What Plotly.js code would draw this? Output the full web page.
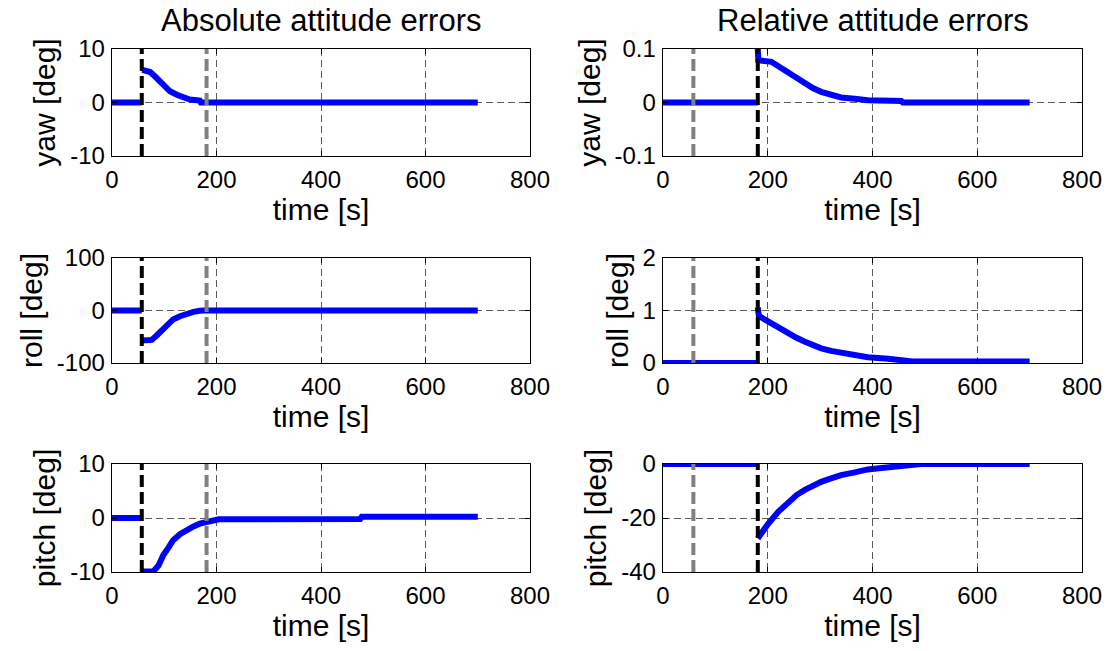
<!DOCTYPE html>
<html>
<head>
<meta charset="utf-8">
<script src="https://cdn.plot.ly/plotly-3.0.1.min.js"></script>
<style>html,body{margin:0;padding:0;background:#fff;}#plot{width:1110px;height:651px;}</style>
</head>
<body>
<div id="plot"></div>
<script>
// ---- data ----
const columnTitles = ["Absolute attitude errors", "Relative attitude errors"];
const rowLabels = ["yaw [deg]", "roll [deg]", "pitch [deg]"];
const xLabel = "time [s]";
const xRange = [0, 800];
const xTicks = [0, 200, 400, 600, 800];

// event times (black = manoeuvre start, gray = switch)
const absBlackT = 57, absGrayT = 181;
const relGrayT = 58, relBlackT = 181;

// null = jump in the sampled series (no connecting segment)
const absYawT = [0, 57, 57, 58, 73, 82, 92, 101, 111, 124, 137, 149, 168, 170, 700];
const absYawV = [0, 0, null, 6.1, 5.7, 4.9, 3.8, 2.85, 2.1, 1.45, 0.95, 0.57, 0.38, 0, 0];
const absYawRange = [-10, 10];
const absYawTicks = [-10, 0, 10];

const absRollT = [0, 57, 57, 58, 76, 85, 95, 105, 117, 130, 143, 156, 168, 175, 700];
const absRollV = [0, 0, null, -57, -56, -48, -37, -27, -17, -11, -6, -2.5, -0.6, 0, 0];
const absRollRange = [-100, 100];
const absRollTicks = [-100, 0, 100];

const absPitchT = [0, 57, 57, 58, 79, 89, 98, 108, 117, 130, 143, 156, 168, 180, 194, 204, 475, 478, 700];
const absPitchV = [0, 0, null, -9.9, -9.9, -8.8, -6.9, -5.5, -4.1, -3.0, -2.2, -1.55, -1.05, -0.8, -0.6, -0.25, -0.2, 0.25, 0.25];
const absPitchRange = [-10, 10];
const absPitchTicks = [-10, 0, 10];

const relYawT = [0, 181, 181, 181, 182, 207, 223, 239, 255, 270, 286, 302, 321, 340, 366, 391, 455, 458, 700];
const relYawV = [0, 0, null, 0.1, 0.079, 0.076, 0.066, 0.055, 0.044, 0.035, 0.027, 0.02, 0.0146, 0.0095, 0.007, 0.0044, 0.003, 0, 0];
const relYawRange = [-0.1, 0.1];
const relYawTicks = [-0.1, 0, 0.1];

const relRollT = [0, 181, 181, 181, 183, 194, 207, 223, 239, 255, 270, 286, 302, 321, 340, 366, 391, 430, 474, 477, 700];
const relRollV = [0, 0, null, 1.06, 0.9, 0.83, 0.75, 0.66, 0.56, 0.48, 0.41, 0.34, 0.28, 0.23, 0.19, 0.14, 0.11, 0.08, 0.06, 0.03, 0.03];
const relRollRange = [0, 2];
const relRollTicks = [0, 1, 2];

const relPitchT = [0, 181, 181, 181, 191, 200, 220, 239, 255, 270, 286, 302, 321, 340, 366, 391, 417, 442, 468, 493, 700];
const relPitchV = [0, 0, null, -27.6, -24.8, -22.3, -17.7, -14, -11.5, -9.7, -8.1, -6.6, -5.3, -4.1, -3.1, -2, -1.5, -1, -0.5, 0, 0];
const relPitchRange = [-40, 0];
const relPitchTicks = [-40, -20, 0];

// ---- build ----
const panels = [
  {t: absYawT, v: absYawV, r: absYawRange, ticks: absYawTicks, col: 0, row: 0, black: absBlackT, gray: absGrayT},
  {t: relYawT, v: relYawV, r: relYawRange, ticks: relYawTicks, col: 1, row: 0, black: relBlackT, gray: relGrayT},
  {t: absRollT, v: absRollV, r: absRollRange, ticks: absRollTicks, col: 0, row: 1, black: absBlackT, gray: absGrayT},
  {t: relRollT, v: relRollV, r: relRollRange, ticks: relRollTicks, col: 1, row: 1, black: relBlackT, gray: relGrayT},
  {t: absPitchT, v: absPitchV, r: absPitchRange, ticks: absPitchTicks, col: 0, row: 2, black: absBlackT, gray: absGrayT},
  {t: relPitchT, v: relPitchV, r: relPitchRange, ticks: relPitchTicks, col: 1, row: 2, black: relBlackT, gray: relGrayT}
];

const W = 1110, H = 651;
const colX = [[112, 530], [663, 1082]];
const rowY = [[49, 156], [258, 363], [464, 572]];
const FONT = "Liberation Sans, Arial, Helvetica, sans-serif";
const TICK_SIZE = 24, LABEL_SIZE = 30, TITLE_SIZE = 31;

const traces = [];
const layout = {
  width: W, height: H,
  margin: {l: 0, r: 0, t: 0, b: 0},
  paper_bgcolor: "#ffffff", plot_bgcolor: "#ffffff",
  showlegend: false,
  font: {family: FONT, color: "#000", size: TICK_SIZE},
  annotations: []
};

panels.forEach((p, i) => {
  const n = i + 1;
  const xa = n === 1 ? "x" : "x" + n;
  const ya = n === 1 ? "y" : "y" + n;
  const xKey = n === 1 ? "xaxis" : "xaxis" + n;
  const yKey = n === 1 ? "yaxis" : "yaxis" + n;
  const cx = colX[p.col], ry = rowY[p.row];
  layout[xKey] = {
    domain: [cx[0] / W, cx[1] / W],
    anchor: ya,
    range: xRange, tickvals: xTicks, ticktext: xTicks.map(String),
    showgrid: true, gridcolor: "#5a5a5a", griddash: "7px,4px", gridwidth: 1,
    zeroline: false, showline: true, mirror: "ticks", linecolor: "#000", linewidth: 1.3,
    ticks: "inside", ticklen: 5, tickcolor: "#000",
    tickfont: {size: TICK_SIZE, family: FONT}, ticklabelstandoff: 2,
    title: {text: xLabel, font: {size: LABEL_SIZE, family: FONT}, standoff: 5},
    fixedrange: true
  };
  layout[yKey] = {
    domain: [1 - ry[1] / H, 1 - ry[0] / H],
    anchor: xa,
    range: p.r, tickvals: p.ticks, ticktext: p.ticks.map(String),
    showgrid: true, gridcolor: "#5a5a5a", griddash: "7px,4px", gridwidth: 1,
    zeroline: false, showline: true, mirror: "ticks", linecolor: "#000", linewidth: 1.3,
    ticks: "inside", ticklen: 5, tickcolor: "#000",
    tickfont: {size: TICK_SIZE, family: FONT}, ticklabelstandoff: 1,
    title: {text: rowLabels[p.row], font: {size: LABEL_SIZE, family: FONT}, standoff: 5},
    fixedrange: true
  };
  // data
  traces.push({
    type: "scatter", mode: "lines", x: p.t, y: p.v, xaxis: xa, yaxis: ya,
    connectgaps: false,
    line: {color: "#0000ff", width: 6}, hoverinfo: "skip"
  });
  // event lines
  traces.push({
    type: "scatter", mode: "lines", x: [p.black, p.black], y: p.r, xaxis: xa, yaxis: ya,
    line: {color: "#000000", width: 4, dash: "12px,5px"}, hoverinfo: "skip"
  });
  traces.push({
    type: "scatter", mode: "lines", x: [p.gray, p.gray], y: p.r, xaxis: xa, yaxis: ya,
    line: {color: "#808080", width: 4, dash: "12px,5px"}, hoverinfo: "skip"
  });
});

columnTitles.forEach((txt, c) => {
  layout.annotations.push({
    text: txt, xref: "paper", yref: "paper",
    x: (colX[c][0] + colX[c][1]) / 2 / W, y: 1 - 21 / H,
    xanchor: "center", yanchor: "middle", showarrow: false,
    font: {size: TITLE_SIZE, family: FONT, color: "#000"}
  });
});

Plotly.newPlot("plot", traces, layout, {staticPlot: true, displayModeBar: false});
</script>
</body>
</html>
